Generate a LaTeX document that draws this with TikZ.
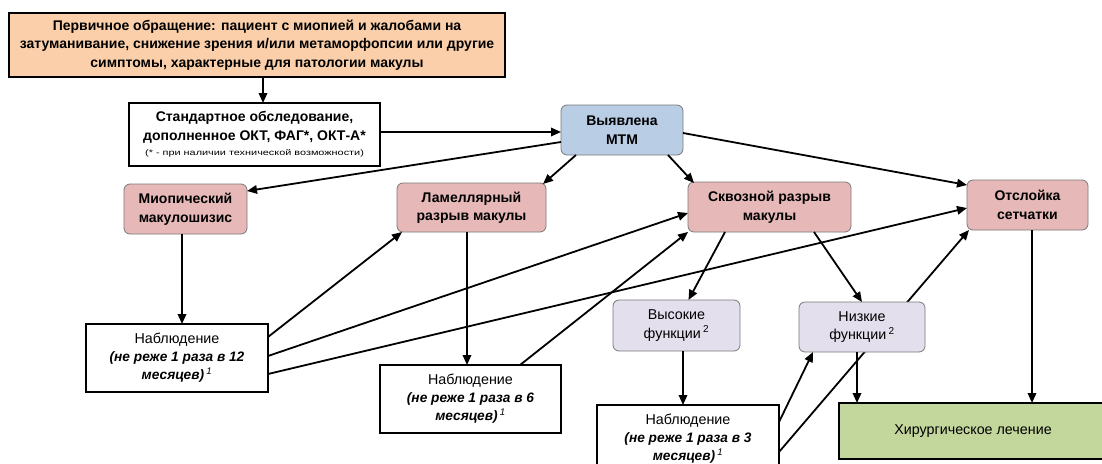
\documentclass[tikz,border=0pt]{standalone}
\usepackage{fontspec}
\usepackage{graphicx}
\setmainfont{Liberation Sans}
\usetikzlibrary{arrows.meta,calc,backgrounds}
\definecolor{cOrange}{RGB}{250,207,170}
\definecolor{cBlue}{RGB}{185,205,229}
\definecolor{cPink}{RGB}{230,185,184}
\definecolor{cLav}{RGB}{228,223,236}
\definecolor{cGreen}{RGB}{195,214,155}
\definecolor{cEdge}{RGB}{120,120,120}
\newcommand{\bi}[1]{\textbf{\textit{#1}}}
\begin{document}
\begin{tikzpicture}[x=1pt,y=-1pt,
  every node/.style={inner sep=0pt,outer sep=0pt,align=center},
  sqbox/.style={draw=black,line width=1.3pt,fill=white},
  rbox/.style={draw=cEdge,line width=0.8pt,rounded corners=6pt},
  arr/.style={line width=1.8pt,-{Triangle[length=10pt,width=8.5pt]}},
  tb/.style={font=\fontsize{14}{18.5}\selectfont\bfseries},
  tr/.style={font=\fontsize{14.3}{18.5}\selectfont},
  to/.style={font=\fontsize{13.7}{18}\selectfont}]
\useasboundingbox (0,0) rectangle (1102,463);

\node[sqbox,fill=cOrange,minimum width=496pt,minimum height=64pt,tb] (top) at (257,45)
  {Первичное обращение: пациент с миопией и жалобами на\\затуманивание, снижение зрения и/или метаморфопсии или другие\\симптомы, характерные для патологии макулы};
\node[sqbox,minimum width=251pt,minimum height=63pt,tb] (std) at (254.5,134.5)
  {Стандартное обследование,\\дополненное ОКТ, ФАГ*, ОКТ-А*\\[-3pt]\mdseries\scalebox{1.36}[1]{\fontsize{8}{9}\selectfont (* - при наличии технической возможности)}};
\node[rbox,fill=cBlue,minimum width=122pt,minimum height=50pt,tb] (mtm) at (622,130) {Выявлена\\МТМ};
\node[rbox,fill=cPink,minimum width=123pt,minimum height=50pt,tb] (myo) at (185.5,209) {Миопический\\макулошизис};
\node[rbox,fill=cPink,minimum width=149pt,minimum height=49pt,tb] (lam) at (471.5,207.5) {Ламеллярный\\разрыв макулы};
\node[rbox,fill=cPink,minimum width=163pt,minimum height=50pt,tb] (skv) at (769.5,207) {Сквозной разрыв\\макулы};
\node[rbox,fill=cPink,minimum width=121pt,minimum height=50pt,tb] (ots) at (1027.5,205) {Отслойка\\сетчатки};
\node[sqbox,minimum width=182pt,minimum height=68pt,to] (obs12) at (177,358)
  {\fontsize{14.3}{18}\selectfont Наблюдение\\\bi{(не реже 1 раза в 12}\\\bi{месяцев)}\,\textsuperscript{\itshape 1}};
\node[sqbox,minimum width=181pt,minimum height=68pt,to] (obs6) at (470.5,399)
  {\fontsize{14.3}{18}\selectfont Наблюдение\\\bi{(не реже 1 раза в 6}\\\bi{месяцев)}\,\textsuperscript{\itshape 1}};
\node[rbox,fill=cLav,minimum width=127pt,minimum height=51pt,tr] (vys) at (676.5,325.5) {Высокие\\функции\,\textsuperscript{2}};
\node[rbox,fill=cLav,minimum width=126pt,minimum height=50pt,tr] (niz) at (862,327) {Низкие\\функции\,\textsuperscript{2}};
\node[sqbox,minimum width=182pt,minimum height=68pt,to] (obs3) at (688,439)
  {\fontsize{14.3}{18}\selectfont Наблюдение\\\bi{(не реже 1 раза в 3}\\\bi{месяцев)}\,\textsuperscript{\itshape 1}};
\node[sqbox,fill=cGreen,line width=1.6pt,minimum width=268pt,minimum height=56pt,tr] (sur) at (973,431) {Хирургическое лечение};

\begin{scope}[on background layer]
\draw[arr] ($(obs3.east)+(0,13)$) -- ($(ots.south west)+(2,0)$);
\end{scope}

\draw[arr] ($(top.south)+(6,0)$) -- ($(std.north)+(8.5,0)$);
\draw[arr] ($(std.east)+(0,-2.5)$) -- ($(mtm.west)+(0,2)$);
\draw[arr] ($(mtm.west)+(0,12)$) -- ($(myo.east)+(0,-18)$);
\draw[arr] ($(mtm.south west)+(15,0)$) -- ($(lam.north east)+(-3,1)$);
\draw[arr] ($(mtm.south east)+(-15,0)$) -- ($(skv.north west)+(6,1)$);
\draw[arr] ($(mtm.east)+(0,3)$) -- ($(ots.west)+(0,-20)$);
\draw[arr] ($(myo.south)+(-3.5,0)$) -- ($(obs12.north)+(5,0)$);
\draw[arr] ($(obs12.north east)+(0,13)$) -- ($(lam.south west)+(5,0)$);
\draw[arr] ($(obs12.north east)+(0,32)$) -- ($(skv.west)+(0,6)$);
\draw[arr] ($(obs12.north east)+(0,50)$) -- ($(ots.west)+(0,3)$);
\draw[arr] ($(lam.south)+(-4.5,0)$) -- ($(obs6.north)+(-3.5,0)$);
\draw[arr] ($(obs6.north east)+(-41,0)$) -- (skv.south west);
\draw[arr] ($(skv.south west)+(37,0)$) -- ($(vys.north)+(12,0)$);
\draw[arr] ($(skv.south east)+(-37,0)$) -- (niz.north);
\draw[arr] ($(vys.south)+(6.5,0)$) -- ($(obs3.north)+(-5,0)$);
\draw[arr] ($(obs3.east)+(0,-17)$) -- ($(niz.south west)+(14,0)$);
\draw[arr] ($(niz.south)+(-5,0)$) -- ($(sur.north west)+(18,0)$);
\draw[arr] ($(ots.south)+(4.5,0)$) -- ($(sur.north)+(59,0)$);
\end{tikzpicture}
\end{document}
